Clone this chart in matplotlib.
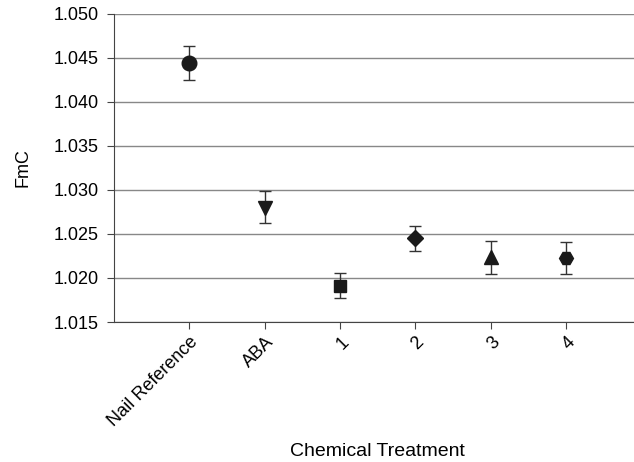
import matplotlib.pyplot as plt
import numpy as np

plt.rcParams['font.family'] = ['Liberation Sans', 'DejaVu Sans']

treatments = ['Nail Reference', 'ABA', '1', '2', '3', '4']
fmc = [1.0444, 1.0280, 1.0191, 1.0245, 1.0224, 1.0223]
err_low = [0.0019, 0.0017, 0.0014, 0.0014, 0.0020, 0.0018]
err_high = [0.0020, 0.0019, 0.0015, 0.0014, 0.0018, 0.0018]
markers = ['o', 'v', 's', 'D', '^', 'H']
sizes = [10.5, 10.5, 9, 8.5, 10.5, 10]

fig = plt.figure(figsize=(6.34, 4.62), dpi=100)
ax = fig.add_axes([0.18, 0.303, 0.82, 0.667])

x = np.arange(1, len(treatments) + 1)
for i in range(len(treatments)):
    ax.errorbar(x[i], fmc[i], yerr=[[err_low[i]], [err_high[i]]], fmt=markers[i],
                color='#1a1a1a', ecolor='#333333', elinewidth=1, capsize=4,
                capthick=1, markersize=sizes[i], zorder=3)

ax.set_xlim(0, 6.9)
ax.set_ylim(1.015, 1.050)
ax.set_yticks(np.arange(1.015, 1.0501, 0.005))
ax.set_yticklabels(['%.3f' % v for v in np.arange(1.015, 1.0501, 0.005)])
ax.set_xticks(x)
ax.set_xticklabels(treatments, rotation=45, ha='right', rotation_mode='anchor')
ax.yaxis.grid(True, color='#888888', linewidth=1)
ax.set_axisbelow(True)
for s in ['top', 'right']:
    ax.spines[s].set_visible(False)
for s in ['left', 'bottom']:
    ax.spines[s].set_color('#444444')
ax.tick_params(axis='both', labelsize=13, color='#444444', length=5)
ax.tick_params(axis='y', pad=6)

ax.set_ylabel('FmC', fontsize=13, labelpad=16)
fig.text(0.596, 0.012, 'Chemical Treatment', fontsize=14, ha='center')

fig.savefig('out.png', dpi=100)
